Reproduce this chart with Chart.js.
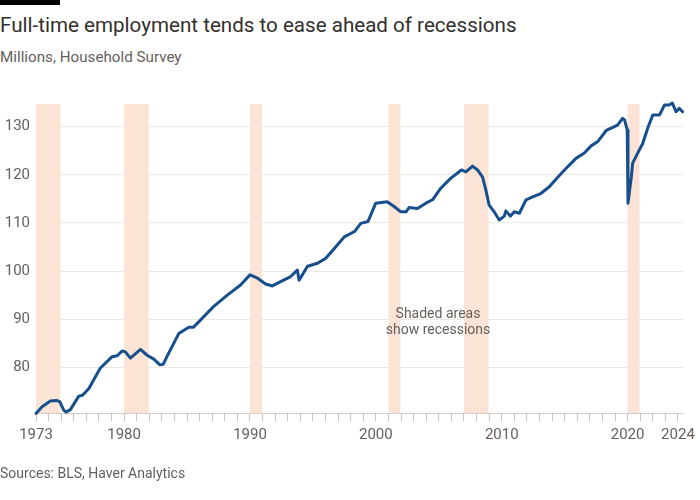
<!DOCTYPE html>
<html>
<head>
<meta charset="utf-8">
<script src="https://cdn.jsdelivr.net/npm/chart.js@4.4.1/dist/chart.umd.min.js"></script>
<style>
  body { margin: 0; background: #fff; font-family: Roboto, "Noto Sans", sans-serif; }
  #wrap { position: relative; width: 700px; height: 500px; overflow: hidden; }
  #bar { position: absolute; left: 0; top: 0; width: 60px; height: 5px; background: #000; }
  #title { position: absolute; left: 0; top: 13px; font-size: 20.6px; color: #33302e; white-space: nowrap; }
  #subtitle { position: absolute; left: 0; top: 48px; font-size: 15.2px; color: #66605c; white-space: nowrap; }
  #source { position: absolute; left: 0; top: 465px; font-size: 14px; color: #66605c; white-space: nowrap; }
  #note { position: absolute; left: 378px; top: 305px; width: 120px; text-align: center; font-size: 14px; line-height: 16px; color: #66605c; }
  canvas { position: absolute; left: 0; top: 0; }
</style>
</head>
<body>
<div id="wrap">
  <div id="bar"></div>
  <div id="title">Full-time employment tends to ease ahead of recessions</div>
  <div id="subtitle">Millions, Household Survey</div>
  <canvas id="myChart" width="700" height="500"></canvas>
  <div id="note">Shaded areas<br>show recessions</div>
  <div id="source">Sources: BLS, Haver Analytics</div>
</div>
<script>
// Full-time employment, millions
const years = [
  1973.0, 1973.48, 1974.14, 1974.67, 1974.9, 1975.2, 1975.4, 1975.73, 1976.4, 1976.7,
  1977.2, 1978.1, 1979.05, 1979.45, 1979.85, 1980.1, 1980.5, 1981.3, 1981.83, 1982.36,
  1982.84, 1983.1, 1983.4, 1984.34, 1985.14, 1985.5, 1986.06, 1987.1, 1988.2, 1989.25,
  1990.0, 1990.6, 1991.24, 1991.77, 1992.43, 1993.2, 1993.76, 1993.9, 1994.57, 1995.36,
  1996.0, 1996.7, 1997.5, 1998.3, 1998.8, 1999.38, 1999.99, 2000.9, 2001.45, 2001.98,
  2002.4, 2002.65, 2003.3, 2003.97, 2004.5, 2005.16, 2005.96, 2006.8, 2007.15, 2007.68,
  2008.08, 2008.48, 2008.74, 2009.0, 2009.4, 2009.8, 2010.2, 2010.33, 2010.68, 2011.0,
  2011.4, 2011.93, 2012.46, 2013.1, 2013.78, 2014.45, 2015.1, 2015.9, 2016.56, 2017.1,
  2017.63, 2018.3, 2018.95, 2019.2, 2019.6, 2019.76, 2019.97, 2020.03, 2020.3, 2020.4,
  2020.8, 2021.2, 2021.6, 2022.0, 2022.53, 2022.93, 2023.3, 2023.55, 2023.85, 2024.1,
  2024.37
];
const employment = [
  70.4, 71.8, 73.0, 73.1, 72.8, 71.1, 70.7, 71.2, 74.0, 74.2,
  75.6, 79.8, 82.2, 82.4, 83.4, 83.2, 81.9, 83.7, 82.5, 81.7,
  80.5, 80.6, 82.2, 87.0, 88.3, 88.3, 89.8, 92.6, 95.0, 97.1,
  99.2, 98.5, 97.3, 96.9, 97.8, 98.8, 100.2, 98.1, 101.0, 101.6,
  102.6, 104.7, 107.1, 108.2, 109.9, 110.3, 114.1, 114.4, 113.4, 112.3,
  112.3, 113.2, 113.0, 114.1, 114.8, 117.2, 119.3, 121.0, 120.6, 121.8,
  121.0, 119.5, 116.8, 113.7, 112.3, 110.6, 111.4, 112.5, 111.4, 112.3,
  112.0, 114.8, 115.4, 116.1, 117.5, 119.5, 121.3, 123.4, 124.5, 126.0,
  126.9, 129.2, 130.0, 130.3, 131.7, 131.4, 129.3, 114.1, 119.6, 122.4,
  124.5, 126.5, 129.7, 132.4, 132.4, 134.5, 134.5, 134.9, 133.1, 133.8,
  133.1
];

// Recessions (shaded)
const recessionStart = [1973.0, 1980.0, 1990.0, 2001.0, 2007.0, 2020.0];
const recessionEnd   = [1974.95, 1981.95, 1990.95, 2001.95, 2008.95, 2020.95];

const xLabels = [1973, 1980, 1990, 2000, 2010, 2020, 2024];
const yTicks = [80, 90, 100, 110, 120, 130];

const points = years.map((x, i) => ({ x: x, y: employment[i] }));

// shading behind the line
const recessionBands = {
  id: 'recessionBands',
  beforeDatasetsDraw(chart) {
    const { ctx, chartArea, scales: { x } } = chart;
    ctx.save();
    ctx.fillStyle = '#fbe3d5';
    recessionStart.forEach((s, i) => {
      const x0 = x.getPixelForValue(s);
      const x1 = x.getPixelForValue(recessionEnd[i]);
      ctx.fillRect(x0, chartArea.top, x1 - x0, chartArea.bottom - chartArea.top);
    });
    ctx.restore();
  }
};

const config = {
  type: 'line',
  data: {
    datasets: [{
      data: points,
      borderColor: '#174f8c',
      borderWidth: 3,
      pointRadius: 0,
      tension: 0,
      clip: false,
      borderJoinStyle: 'round',
      borderCapStyle: 'round'
    }]
  },
  options: {
    responsive: false,
    animation: false,
    layout: { padding: { top: 104, right: 17, left: 0, bottom: 0 } },
    plugins: {
      legend: { display: false },
      tooltip: { enabled: false }
    },
    scales: {
      x: {
        type: 'linear',
        min: 1973,
        max: 2024.4,
        afterBuildTicks: (scale) => {
          const t = [];
          for (let yr = 1973; yr <= 2024; yr++) t.push({ value: yr });
          scale.ticks = t;
        },
        afterFit: (scale) => { scale.height = 87; },
        ticks: {
          autoSkip: false,
          maxRotation: 0,
          padding: 5,
          color: '#66605c',
          font: { family: 'Roboto', size: 15 },
          callback: (v) => xLabels.includes(v) ? String(v) : ''
        },
        grid: { drawOnChartArea: false, drawTicks: true, tickLength: 8, color: '#c9c2bc' },
        border: { display: true, color: '#d3ccc6', width: 1 }
      },
      y: {
        min: 70.5,
        max: 134.7,
        afterBuildTicks: (scale) => { scale.ticks = yTicks.map(v => ({ value: v })); },
        afterFit: (scale) => { scale.width = 36; },
        ticks: {
          padding: 6,
          color: '#66605c',
          font: { family: 'Roboto', size: 15 }
        },
        grid: { drawTicks: false, color: '#ece8e4' },
        border: { display: false }
      }
    }
  },
  plugins: [recessionBands]
};

const myChart = new Chart(document.getElementById('myChart'), config);
</script>
</body>
</html>
